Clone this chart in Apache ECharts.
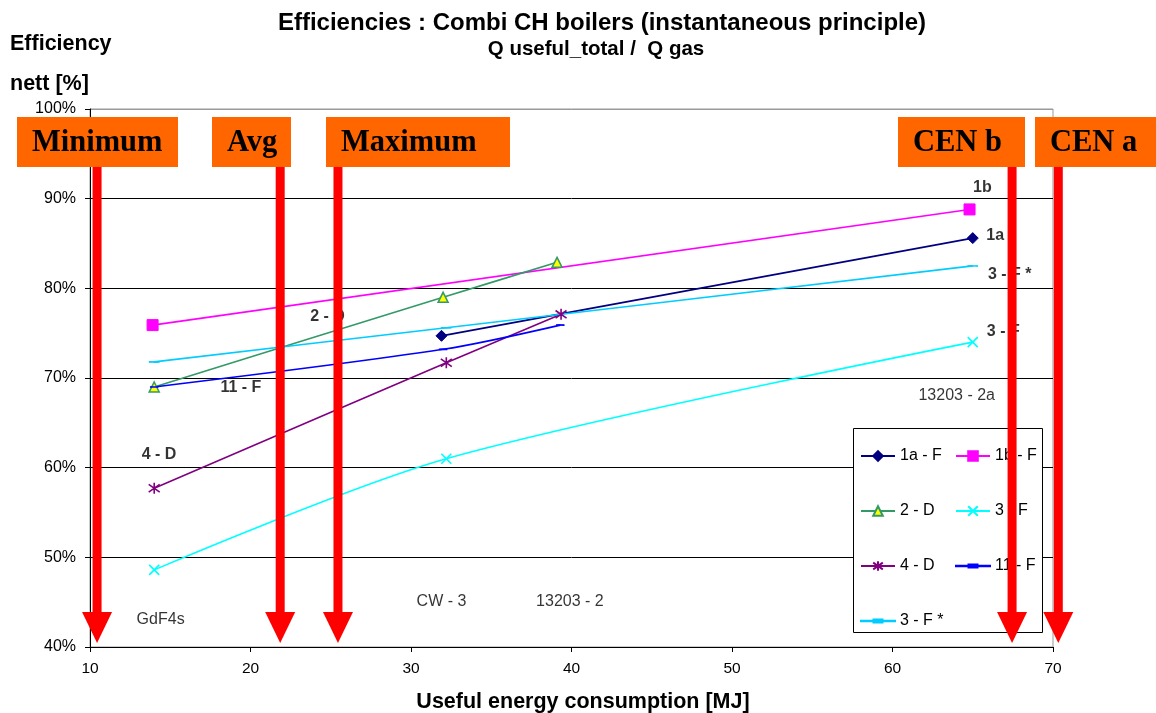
<!DOCTYPE html>
<html>
<head>
<meta charset="utf-8">
<title>Efficiencies : Combi CH boilers</title>
<script src="https://cdn.jsdelivr.net/npm/echarts@6/dist/echarts.min.js"></script>
<style>
  html, body { margin: 0; padding: 0; background: #fff; }
  #chart { width: 1156px; height: 713px; }
</style>
</head>
<body>
<div id="chart"></div>
<script>
// Useful energy consumption [MJ] and nett efficiency [%] per boiler
const energy1a = [31.9, 65.0];
const eff1a = [74.7, 85.6];
const energy1b = [13.9, 64.8];
const eff1b = [75.9, 88.8];
const energy2D = [14.0, 32.0, 39.1];
const eff2D = [69.0, 79.0, 82.9];
const energy3F = [14.0, 32.2, 65.0];
const eff3F = [48.6, 61.0, 74.0];
const energy4D = [14.0, 32.2, 39.35];
const eff4D = [57.7, 71.7, 77.1];
const energy11F = [14.0, 32.0, 39.3];
const eff11F = [69.0, 73.2, 75.9];
const energy3Fs = [14.0, 32.2, 65.0];
const eff3Fs = [71.8, 75.6, 82.5];

// Reference consumption levels marked by arrows
const markerNames = ['Minimum', 'Avg', 'Maximum', 'CEN b', 'CEN a'];
const markerEnergy = [10.44, 21.85, 25.45, 67.45, 70.33];

// Point notes inside the plot: [energy, efficiency, text]
const boldNotes = [
  [65.6, 91.2, '1b'],
  [66.4, 85.9, '1a'],
  [67.3, 81.5, '3 - F *'],
  [66.9, 75.2, '3 - F'],
  [24.8, 76.9, '2 - D'],
  [19.4, 68.9, '11 - F'],
  [14.3, 61.5, '4 - D']
];
const plainNotes = [
  [64.0, 68.0, '13203 - 2a'],
  [14.4, 43.1, 'GdF4s'],
  [31.9, 45.1, 'CW - 3'],
  [39.9, 45.1, '13203 - 2']
];

const FONT = 'Arial, "Liberation Sans", sans-serif';
const SERIF = '"Times New Roman", "Liberation Serif", serif';

function zip(xs, ys) { return xs.map((x, i) => [x, ys[i]]); }

const crossPath = 'path://M0,0L10,10M10,0L0,10';
const starPath = 'path://M5,0L5,10M0,1.5L10,8.5M0,8.5L10,1.5';
const dashPath = 'path://M0,0L9,0L9,3L0,3Z';
// Legend key for the dash-marked series: a thin line with a short bar in the middle
const dashKeyPath = 'path://M0,6.1L34,6.1L34,6.7L0,6.7Z M12.5,5L21.5,5L21.5,7.8L12.5,7.8Z';

function lineSeries(name, xs, ys, color, symbol, size, extra) {
  return Object.assign({
    name: name,
    type: 'line',
    data: zip(xs, ys),
    symbol: symbol,
    symbolSize: size,
    symbolKeepAspect: true,
    smooth: 0.3,
    showSymbol: true,
    lineStyle: { color: color, width: 1.6 },
    itemStyle: { color: color, borderColor: color, borderWidth: 1 },
    z: 3
  }, extra || {});
}

// Orange caption boxes above the arrows (pixel layout)
const boxLayout = [
  { left: 17, right: 178 },
  { left: 212, right: 291 },
  { left: 326, right: 510 },
  { left: 898, right: 1025 },
  { left: 1035, right: 1160 }
];

const graphics = [
  { type: 'text', left: 10, top: 33, z: 50,
    style: { text: 'Efficiency', font: 'bold 21.5px ' + FONT, fill: '#000' } },
  { type: 'text', left: 10, top: 73, z: 50,
    style: { text: 'nett [%]', font: 'bold 21.5px ' + FONT, fill: '#000' } },
  { type: 'text', x: 583, y: 702, z: 50,
    style: { text: 'Useful energy consumption [MJ]', font: 'bold 21.5px ' + FONT, fill: '#000',
             align: 'center', verticalAlign: 'middle' } },
  { type: 'rect', shape: { x: 853.5, y: 428.5, width: 189, height: 204 }, z: 6,
    style: { fill: '#fff', stroke: '#000', lineWidth: 1 } }
];
boxLayout.forEach((b, i) => {
  graphics.push({
    type: 'rect', shape: { x: b.left, y: 117, width: b.right - b.left, height: 50 }, z: 60,
    style: { fill: '#FF6600' }
  });
  graphics.push({
    type: 'text', x: b.left + 15, y: 143, z: 61,
    style: { text: markerNames[i], font: 'bold 30.5px ' + SERIF, fill: '#000',
             align: 'left', verticalAlign: 'middle' }
  });
});

function renderArrow(params, api) {
  const x = api.value(0);
  const top = api.coord([x, 100]);
  const base = api.coord([x, 40]);
  const cx = top[0];
  const tipY = base[1] - 4;
  const headH = 31, headW = 30, shaftW = 9;
  const shaftTop = top[1] + 30;
  return {
    type: 'group',
    children: [
      { type: 'rect', shape: { x: cx - shaftW / 2, y: shaftTop, width: shaftW, height: tipY - headH - shaftTop + 1 },
        style: { fill: '#FF0000' } },
      { type: 'polygon', shape: { points: [[cx - headW / 2, tipY - headH], [cx + headW / 2, tipY - headH], [cx, tipY]] },
        style: { fill: '#FF0000' } }
    ]
  };
}

const legendText = { fontFamily: FONT, fontSize: 16, color: '#000', lineHeight: 12 };
const legendBase = {
  orient: 'vertical', top: 443, itemWidth: 34, itemHeight: 12, itemGap: 39,
  symbolKeepAspect: true, textStyle: legendText, z: 10, selectedMode: false
};

const option = {
  animation: false,
  backgroundColor: '#fff',
  title: [
    { text: 'Efficiencies : Combi CH boilers (instantaneous principle)', left: 597, top: 6, textAlign: 'center',
      textStyle: { fontFamily: FONT, fontSize: 24, fontWeight: 'bold', color: '#000' } },
    { text: 'Q useful_total /  Q gas', left: 591, top: 34, textAlign: 'center',
      textStyle: { fontFamily: FONT, fontSize: 20.5, fontWeight: 'bold', color: '#000' } }
  ],
  grid: { left: 90, right: 103, top: 109, bottom: 66, show: true, borderColor: '#999', borderWidth: 1,
          backgroundColor: 'transparent' },
  legend: [
    Object.assign({ data: ['1a - F', '2 - D', '4 - D', { name: '3 - F *', icon: dashKeyPath }], left: 855 }, legendBase),
    Object.assign({ data: ['1b - F', '3 - F', { name: '11 - F', icon: dashKeyPath }], left: 950 }, legendBase)
  ],
  xAxis: {
    type: 'value', min: 10, max: 70, interval: 10,
    axisLine: { lineStyle: { color: '#000', width: 1 } },
    axisTick: { show: true, length: 5, lineStyle: { color: '#000' } },
    axisLabel: { fontFamily: FONT, fontSize: 15.5, color: '#000', margin: 14 },
    splitLine: { show: false }
  },
  yAxis: {
    type: 'value', min: 40, max: 100, interval: 10,
    axisLine: { show: true, lineStyle: { color: '#000', width: 1 } },
    axisTick: { show: true, length: 5, lineStyle: { color: '#000' } },
    axisLabel: { fontFamily: FONT, fontSize: 16, color: '#000', margin: 14, formatter: '{value}%' },
    splitLine: { show: true, lineStyle: { color: ['#000', '#000', '#000', '#000', '#000', '#000', '#999'], width: 1 } }
  },
  graphic: graphics,
  series: [
    lineSeries('1a - F', energy1a, eff1a, '#000080', 'diamond', 11),
    lineSeries('1b - F', energy1b, eff1b, '#FF00FF', 'rect', 11),
    lineSeries('2 - D', energy2D, eff2D, '#339966', 'triangle', 10, {
      itemStyle: { color: '#FFFF00', borderColor: '#339966', borderWidth: 1.5 } }),
    lineSeries('3 - F', energy3F, eff3F, '#00FFFF', crossPath, 10, {
      itemStyle: { color: 'none', borderColor: '#00FFFF', borderWidth: 1.6 } }),
    lineSeries('4 - D', energy4D, eff4D, '#800080', starPath, 11, {
      itemStyle: { color: 'none', borderColor: '#800080', borderWidth: 1.6 } }),
    lineSeries('11 - F', energy11F, eff11F, '#0000FF', dashPath, [7, 3]),
    lineSeries('3 - F *', energy3Fs, eff3Fs, '#00CCFF', dashPath, [9, 3]),
    {
      name: 'notes-bold', type: 'scatter', symbolSize: 1, z: 4,
      itemStyle: { color: 'rgba(0,0,0,0)' },
      data: boldNotes.map(n => ({ value: [n[0], n[1]], name: n[2] })),
      label: { show: true, position: 'inside', formatter: p => p.name,
               fontFamily: FONT, fontSize: 16, fontWeight: 'bold', color: '#000' },
      silent: true
    },
    {
      name: 'notes-plain', type: 'scatter', symbolSize: 1, z: 4,
      itemStyle: { color: 'rgba(0,0,0,0)' },
      data: plainNotes.map(n => ({ value: [n[0], n[1]], name: n[2] })),
      label: { show: true, position: 'inside', formatter: p => p.name,
               fontFamily: FONT, fontSize: 16, color: '#000' },
      silent: true
    },
    {
      name: 'levels', type: 'custom', z: 30, clip: false, silent: true,
      renderItem: renderArrow,
      data: markerEnergy.map(v => [v])
    }
  ]
};

const chart = echarts.init(document.getElementById('chart'), null, { renderer: 'canvas' });
chart.setOption(option);
</script>
</body>
</html>
